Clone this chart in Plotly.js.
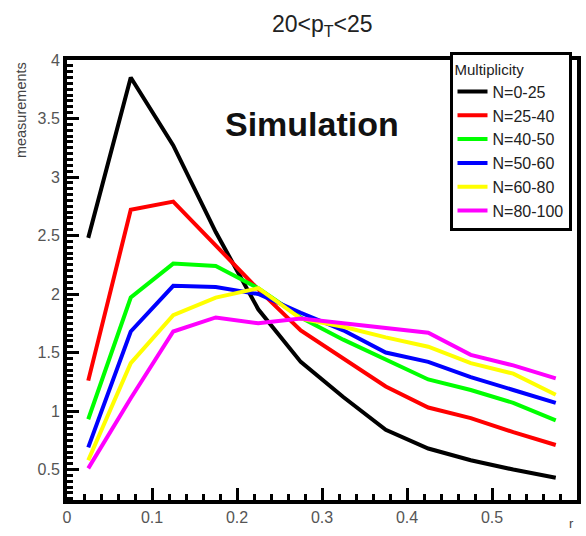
<!DOCTYPE html>
<html>
<head>
<meta charset="utf-8">
<script src="https://cdn.plot.ly/plotly-3.0.1.min.js"></script>
<style>html,body{margin:0;padding:0;background:#fff;}#chart{width:586px;height:536px;}</style>
</head>
<body>
<div id="chart"></div>
<script>
// r bin centres
const rValues = [0.025, 0.075, 0.125, 0.175, 0.225, 0.275, 0.325, 0.375, 0.425, 0.475, 0.525, 0.575];
// series names
const seriesNames = ["N=0-25", "N=25-40", "N=40-50", "N=50-60", "N=60-80", "N=80-100"];
// measurements per multiplicity class
const n0_25   = [2.48, 3.85, 3.27, 2.53, 1.87, 1.42, 1.12, 0.84, 0.68, 0.58, 0.50, 0.43];
const n25_40  = [1.26, 2.72, 2.79, 2.42, 2.04, 1.69, 1.45, 1.21, 1.03, 0.94, 0.82, 0.71];
const n40_50  = [0.93, 1.97, 2.26, 2.24, 2.05, 1.80, 1.61, 1.44, 1.27, 1.18, 1.07, 0.92];
const n50_60  = [0.69, 1.68, 2.07, 2.06, 2.00, 1.84, 1.69, 1.50, 1.42, 1.29, 1.18, 1.07];
const n60_80  = [0.58, 1.41, 1.82, 1.97, 2.05, 1.79, 1.72, 1.63, 1.55, 1.41, 1.32, 1.14];
const n80_100 = [0.51, 1.11, 1.68, 1.80, 1.75, 1.79, 1.75, 1.71, 1.67, 1.48, 1.39, 1.28];
const seriesValues = [n0_25, n25_40, n40_50, n50_60, n60_80, n80_100];
const seriesColors = ["#000000", "#ff0000", "#00ff00", "#0000ff", "#ffff00", "#ff00ff"];

const traces = seriesValues.map((vals, i) => ({
  type: "scatter",
  mode: "lines",
  x: rValues,
  y: vals,
  name: seriesNames[i],
  line: {color: seriesColors[i], width: 4}
}));

const fontFam = "Liberation Sans, Arial, sans-serif";

const layout = {
  width: 586,
  height: 536,
  margin: {l: 67, r: 9, t: 60, b: 36},
  paper_bgcolor: "#ffffff",
  plot_bgcolor: "#ffffff",
  font: {family: fontFam, color: "#333333"},
  title: {
    text: "20&lt;p<sub>T</sub>&lt;25",
    font: {family: fontFam, size: 23, color: "#222222"},
    x: 0.55, xanchor: "center", y: 0.955, yanchor: "middle"
  },
  showlegend: true,
  legend: {
    x: 0.75, xanchor: "left",
    y: 1.018, yanchor: "top",
    bgcolor: "#ffffff",
    bordercolor: "#000000",
    borderwidth: 3,
    font: {family: fontFam, size: 16, color: "#222222"},
    title: {text: "Multiplicity", font: {family: fontFam, size: 15, color: "#222222"}},
    itemwidth: 30,
    tracegroupgap: 0
  },
  xaxis: {
    range: [0, 0.6],
    tick0: 0, dtick: 0.1,
    ticks: "inside", ticklen: 12, tickwidth: 3, tickcolor: "#000",
    minor: {dtick: 0.02, ticks: "inside", ticklen: 6, tickwidth: 3, tickcolor: "#000", showgrid: false},
    showline: true, linecolor: "#000", linewidth: 4, mirror: true,
    showgrid: false, zeroline: false,
    tickfont: {family: fontFam, size: 16, color: "#555555"},
    tickformat: "~g"
  },
  yaxis: {
    range: [0.24, 4],
    tick0: 0, dtick: 0.5,
    ticks: "inside", ticklen: 12, tickwidth: 3, tickcolor: "#000",
    minor: {dtick: 0.05, ticks: "inside", ticklen: 6, tickwidth: 3, tickcolor: "#000", showgrid: false},
    showline: true, linecolor: "#000", linewidth: 4, mirror: true,
    showgrid: false, zeroline: false,
    tickfont: {family: fontFam, size: 16, color: "#555555"},
    tickformat: "~g"
  },
  annotations: [
    {
      text: "<b>Simulation</b>",
      xref: "paper", yref: "paper",
      x: 0.48, y: 0.855, xanchor: "center", yanchor: "middle",
      showarrow: false,
      font: {family: fontFam, size: 34, color: "#111111"}
    },
    {
      text: "measurements",
      xref: "paper", yref: "paper",
      x: -0.09, y: 1.0, xanchor: "center", yanchor: "top",
      textangle: -90,
      showarrow: false,
      font: {family: fontFam, size: 14.5, color: "#444444"}
    },
    {
      text: "r",
      xref: "paper", yref: "paper",
      x: 0.99, y: -0.032, xanchor: "center", yanchor: "top",
      showarrow: false,
      font: {family: fontFam, size: 13, color: "#444444"}
    }
  ]
};

Plotly.newPlot("chart", traces, layout, {displayModeBar: false, staticPlot: true});
</script>
</body>
</html>
